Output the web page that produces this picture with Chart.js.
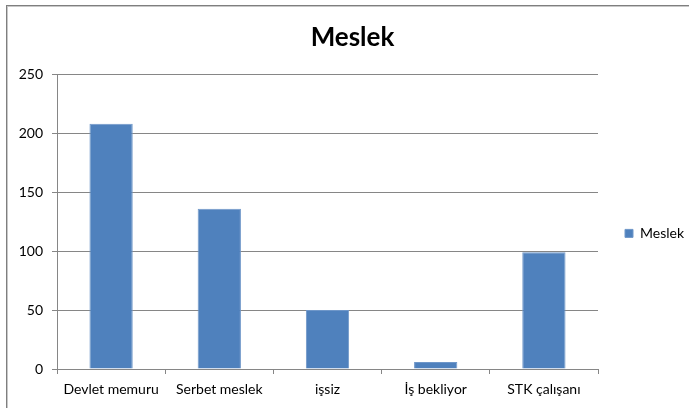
<!DOCTYPE html>
<html>
<head>
<meta charset="utf-8">
<script src="https://cdn.jsdelivr.net/npm/chart.js@4/dist/chart.umd.min.js"></script>
<style>
  body { margin: 0; background: #fff; }
  #frame {
    position: absolute; left: 6px; top: 5px; width: 800px; height: 500px;
    border: 1px solid #7f7f7f; box-shadow: inset 1px 1px 0 #c8c8c8;
  }
  #wrap { position: absolute; left: 0; top: 0; width: 689px; height: 408px; }
</style>
</head>
<body>
<div id="frame"></div>
<div id="wrap"><canvas id="bar" width="689" height="408"></canvas></div>
<script>
const categories = ['Devlet memuru', 'Serbet meslek', 'işsiz', 'İş bekliyor', 'STK çalışanı'];
const values = [208, 136, 50, 6, 99];
const seriesName = 'Meslek';
const yTicks = [0, 50, 100, 150, 200, 250];

const font = "Lato, 'Open Sans', sans-serif";

const ctx = document.getElementById('bar');
const myChart = new Chart(ctx, {
    type: 'bar',
    data: {
        labels: categories,
        datasets: [{
            label: seriesName,
            data: values,
            backgroundColor: '#4f81bd',
            borderColor: '#6f97c9',
            borderWidth: 1,
            barPercentage: 0.4,
            categoryPercentage: 1
        }]
    },
    options: {
        responsive: false,
        animation: false,
        // left padding moves the title centre to the right like the original
        layout: { padding: { left: 16, right: 0, top: 0, bottom: 0 } },
        plugins: {
            title: {
                display: true,
                text: 'Meslek',
                color: '#000',
                font: { family: font, size: 26, weight: 'bold' },
                padding: { top: 22, bottom: 21 }
            },
            legend: {
                position: 'right',
                maxWidth: 91,
                // empty legend title just pushes the item down a bit
                title: { display: true, text: ' ', font: { family: font, size: 14 }, padding: { top: 21, bottom: 21 } },
                labels: {
                    boxWidth: 8,
                    boxHeight: 8,
                    padding: 27,
                    color: '#000',
                    font: { family: font, size: 14 }
                }
            },
            tooltip: { enabled: false }
        },
        scales: {
            x: {
                grid: {
                    offset: true,
                    drawOnChartArea: false,
                    tickLength: 5,
                    color: '#868686'
                },
                border: { color: '#868686' },
                ticks: { color: '#000', padding: 7, font: { family: font, size: 14 }, maxRotation: 0 },
                afterFit: (scale) => { scale.height = 39; }
            },
            y: {
                min: 0,
                max: 250,
                afterBuildTicks: (scale) => { scale.ticks = yTicks.map(v => ({ value: v })); },
                grid: { color: '#868686', tickLength: 5 },
                border: { color: '#868686' },
                ticks: { color: '#000', padding: 9, font: { family: font, size: 14 } },
                afterFit: (scale) => { scale.width = 41; }
            }
        }
    }
});
</script>
</body>
</html>
